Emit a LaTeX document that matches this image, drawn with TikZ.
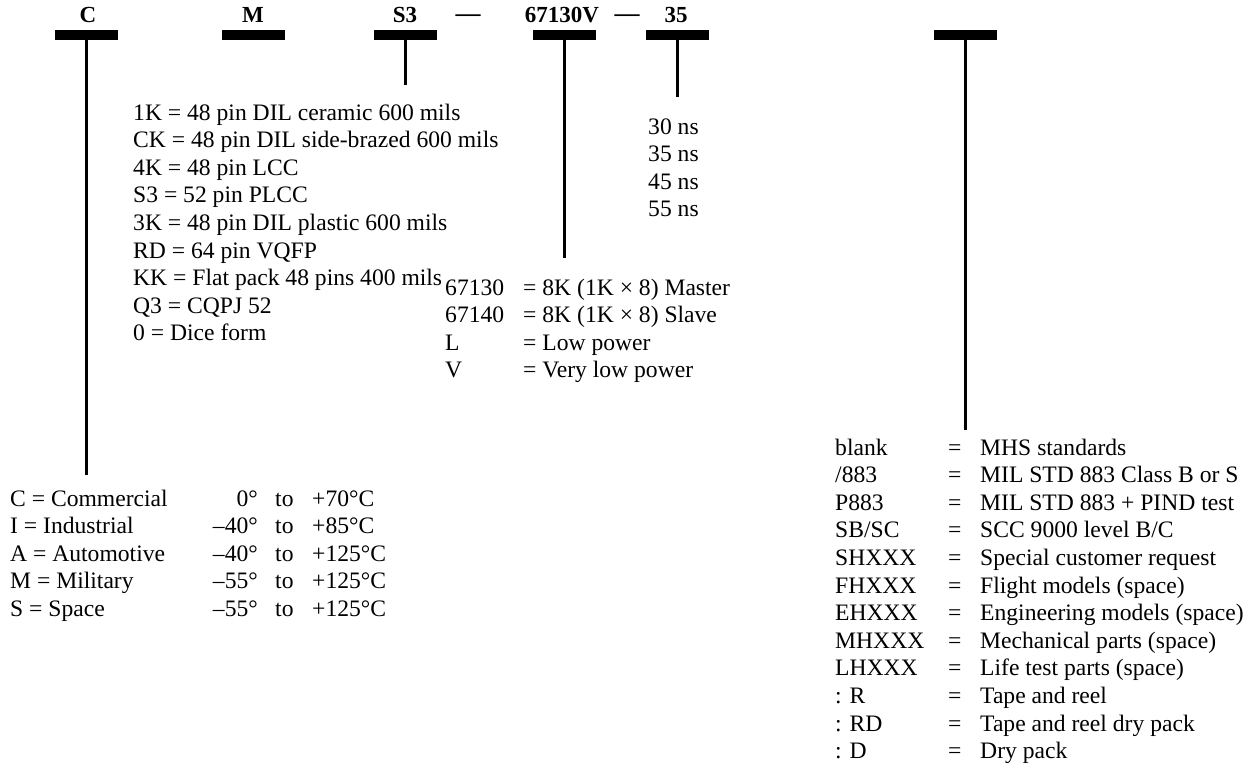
\documentclass[tikz,border=0pt]{standalone}
\usepackage{fontspec}
\setmainfont{Liberation Serif}
\tikzset{
  lbl/.style={font=\fontsize{23}{27}\selectfont\bfseries, inner sep=0pt, anchor=base},
  dashlbl/.style={font=\fontsize{25}{27}\selectfont\bfseries, inner sep=0pt, anchor=base},
  barbox/.style={fill=black, draw=none, minimum width=63pt, minimum height=10pt, inner sep=0pt},
  stem/.style={line width=3pt},
  txt/.style={font=\fontsize{23.6}{27.6}\selectfont, inner sep=0pt, anchor=base west},
  txte/.style={font=\fontsize{23.6}{27.6}\selectfont, inner sep=0pt, anchor=base east},
}
\begin{document}
\begin{tikzpicture}[x=1pt,y=-1pt]
\useasboundingbox (0,0) rectangle (1258,769);

% header labels
\node[lbl] (lC) at (88,22) {C};
\node[lbl] (lM) at (253,22) {M};
\node[lbl] (lS) at (405,22) {S3};
\node[dashlbl] (d1) at (468,21) {—};
\node[lbl] (lD) at (562,22) {67130V};
\node[dashlbl] (d2) at (627,21) {—};
\node[lbl] (lT) at (676,22) {35};

% bars
\node[barbox] (bC) at (86.5,35) {};
\node[barbox] (bM) at (253.5,35) {};
\node[barbox] (bS) at (405,35) {};
\node[barbox] (bD) at (564,35) {};
\node[barbox] (bT) at (677.5,35) {};
\node[barbox] (bR) at (965,35) {};

% stems
\coordinate (eC) at (86.5,475);
\coordinate (eS) at (405,85);
\coordinate (eD) at (564,258);
\coordinate (eT) at (677.5,97);
\coordinate (eR) at (965,430);
\draw[stem] (bC.south) -- (eC);
\draw[stem] (bS.south) -- (eS);
\draw[stem] (bD.south) -- (eD);
\draw[stem] (bT.south) -- (eT);
\draw[stem] (bR.south) -- (eR);

% package block
\foreach \t [count=\i from 0] in {{1K = 48 pin DIL ceramic 600 mils},{CK = 48 pin DIL side-brazed 600 mils},{4K = 48 pin LCC},{S3 = 52 pin PLCC},{3K = 48 pin DIL plastic 600 mils},{RD = 64 pin VQFP},{KK = Flat pack 48 pins 400 mils},{Q3 = CQPJ 52},{0 = Dice form}}
  \node[txt] (pk\i) at (133,120+27.6*\i) {\t};

% speed block
\foreach \t [count=\i from 0] in {30 ns,35 ns,45 ns,55 ns}
  \node[txt] (sp\i) at (648,134+27.5*\i) {\t};

% device block
\foreach \c/\t [count=\i from 0] in {67130/{= 8K (1K × 8) Master},67140/{= 8K (1K × 8) Slave},L/{= Low power},V/{= Very low power}}{
  \node[txt] (dc\i) at (445,295+27.5*\i) {\c};
  \node[txt] (dt\i) at (523,295+27.5*\i) {\t};
}

% temperature block
\foreach \n/\a/\b [count=\i from 0] in {C = Commercial/0°/+70°C,I = Industrial/–40°/+85°C,A = Automotive/–40°/+125°C,M = Military/–55°/+125°C,S = Space/–55°/+125°C}{
  \node[txt] (tn\i) at (10,506+27.5*\i) {\n};
  \node[txte] (ta\i) at (258,506+27.5*\i) {\a};
  \node[txt] (tt\i) at (275,506+27.5*\i) {to};
  \node[txt] (tb\i) at (312,506+27.5*\i) {\b};
}

% right block
\foreach \c/\t [count=\i from 0] in {{blank}/{MHS standards},{/883}/{MIL STD 883 Class B or S},{P883}/{MIL STD 883 + PIND test},{SB/SC}/{SCC 9000 level B/C},{SHXXX}/{Special customer request},{FHXXX}/{Flight models (space)},{EHXXX}/{Engineering models (space)},{MHXXX}/{Mechanical parts (space)},{LHXXX}/{Life test parts (space)},{: R}/{Tape and reel},{: RD}/{Tape and reel dry pack},{: D}/{Dry pack}}{
  \node[txt] (rc\i) at (835,455+27.6*\i) {\c};
  \node[txt] (re\i) at (948,455+27.6*\i) {=};
  \node[txt] (rt\i) at (980,455+27.6*\i) {\t};
}
\end{tikzpicture}
\end{document}
